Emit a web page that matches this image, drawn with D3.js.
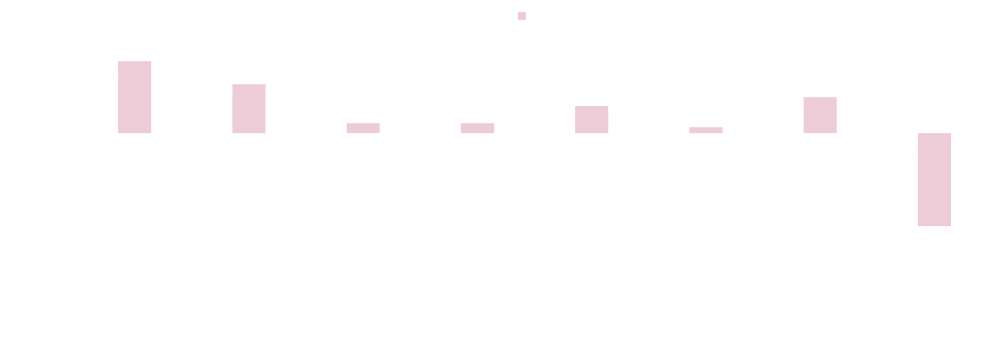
<!DOCTYPE html>
<html>
<head lang="en">
    <meta charset="UTF-8">
    <title>Bar chart</title>
    <script src="https://d3js.org/d3.v7.min.js"></script>
    <style>
        body { margin: 0; background: #fff; }
        text { font-family: "Noto Sans", sans-serif; font-size: 12px; fill: #fefefe; }
        .axis path, .axis line { stroke: none; }
    </style>
</head>
<body>
<svg id="chart" width="985" height="363"></svg>
<script>
    // data
    const CATEGORIES = ["Food and beverage services", "Retail trade and repairs", "Accommodation and tourism",
                        "Transport and logistics", "Health and social work", "Financial and insurance services",
                        "Information and communication", "Mining and quarrying activities"];
    const SERIES = ["2022", "2023"];
    const PREV = [15.2, 10.1, 2.4, 1.8, 5.5, 0.9, 7.6, -4.0];
    const CURR = [21.8, 14.8, 3.0, 3.0, 8.2, 1.8, 10.9, -28.2];
    const Y_TICKS = [0, 10, 20];
    const COLORS = ["#ffffff", "#edccd8"];

    let svg = d3.select('#chart');
    const margins = {top: 50, right: 10, bottom: 93, left: 61};
    const width = 985 - margins.left - margins.right;
    const height = 363 - margins.top - margins.bottom;

    let g = svg.append('g').attr('transform', `translate(${margins.left},${margins.top})`);

    let x0 = d3.scaleBand().domain(CATEGORIES).range([0, width]).paddingInner(0.42).paddingOuter(0.21);
    let x1 = d3.scaleBand().domain(SERIES).range([0, x0.bandwidth()]);
    let y = d3.scaleLinear().domain([-41.5, 25.2]).range([height, 0]);

    // y axis
    g.append('g').attr('class', 'axis axis--y')
        .call(d3.axisLeft(y).tickValues(Y_TICKS).tickSize(0).tickPadding(16).tickFormat(d => d + '%'));

    // x axis labels, wrapped
    let xa = g.append('g').attr('class', 'axis axis--x')
        .attr('transform', `translate(0,${height})`)
        .call(d3.axisBottom(x0).tickSize(0).tickPadding(14));
    xa.selectAll('text').each(function(d) {
        let t = d3.select(this), words = d.split(' '), lines = [], line = [];
        words.forEach(w => {
            line.push(w);
            if (line.join(' ').length > 10 && line.length > 1) { line.pop(); lines.push(line.join(' ')); line = [w]; }
        });
        lines.push(line.join(' '));
        t.text(null);
        lines.forEach((l, i) => t.append('tspan').attr('x', 0).attr('dy', i === 0 ? '0.71em' : '1.45em').text(l));
    });

    let data = CATEGORIES.map((c, i) => ({cat: c, vals: [PREV[i], CURR[i]]}));
    let groups = g.selectAll('.grp').data(data).enter().append('g')
        .attr('class', 'grp')
        .attr('transform', d => `translate(${x0(d.cat)},0)`);

    let cells = groups.selectAll('.cell')
        .data(d => d.vals.map((v, j) => ({s: SERIES[j], v: v, j: j})))
        .enter();

    cells.append('rect')
        .attr('x', d => x1(d.s))
        .attr('y', d => y(Math.max(0, d.v)))
        .attr('width', x1.bandwidth())
        .attr('height', d => Math.abs(y(d.v) - y(0)))
        .attr('fill', d => COLORS[d.j]);

    cells.append('text')
        .attr('x', d => x1(d.s) + x1.bandwidth() / 2)
        .attr('y', d => d.v >= 0 ? y(d.v) - 5 : y(d.v) + 14)
        .attr('text-anchor', 'middle')
        .text(d => d.v.toFixed(1) + '%');

    // legend
    let legend = svg.append('g').attr('transform', 'translate(440,12)');
    let items = legend.selectAll('g').data(SERIES).enter().append('g')
        .attr('transform', (d, i) => `translate(${i * 78},0)`);
    items.append('rect').attr('width', 8).attr('height', 8).attr('fill', (d, i) => COLORS[i]);
    items.append('text').attr('x', 12).attr('y', 8).text(d => d);
</script>
</body>
</html>
